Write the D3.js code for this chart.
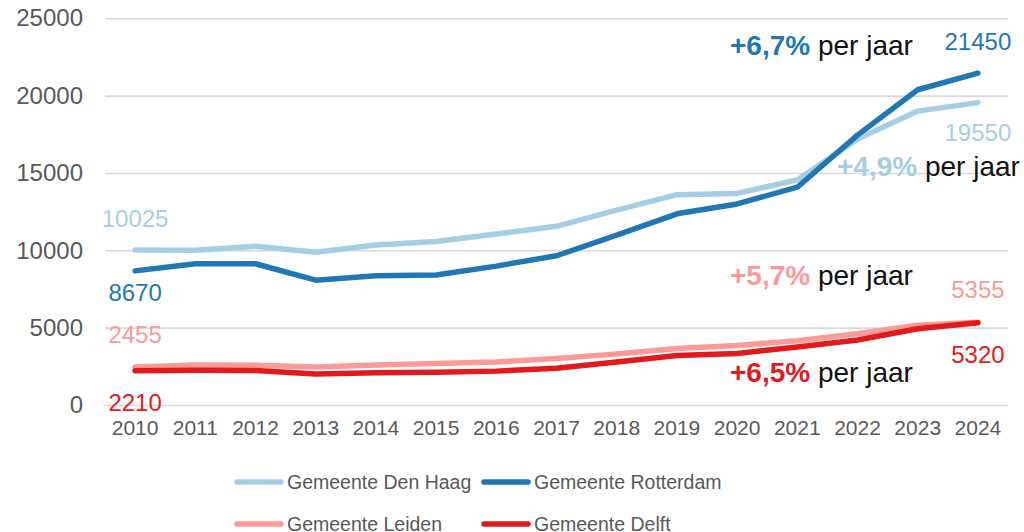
<!DOCTYPE html>
<html>
<head>
<meta charset="utf-8">
<script src="https://cdn.jsdelivr.net/npm/d3@7"></script>
<style>
	body { margin: 0; background: #fff; }
	svg { display: block; font-family: "Liberation Sans", Arial, sans-serif; }
</style>
</head>
<body>
<div id="container"></div>
<script>
// data
const years = [2010, 2011, 2012, 2013, 2014, 2015, 2016, 2017, 2018, 2019, 2020, 2021, 2022, 2023, 2024];
const denHaag   = [10025, 10010, 10260, 9880, 10350, 10570, 11050, 11550, 12600, 13600, 13680, 14550, 17200, 19000, 19550];
const rotterdam = [8670, 9130, 9130, 8070, 8350, 8400, 8980, 9650, 10980, 12360, 13000, 14080, 17450, 20380, 21450];
const leiden    = [2455, 2580, 2570, 2460, 2580, 2680, 2780, 3000, 3300, 3650, 3850, 4150, 4600, 5150, 5355];
const delft     = [2210, 2250, 2230, 2000, 2090, 2110, 2190, 2380, 2780, 3200, 3330, 3750, 4200, 4930, 5320];
const yTicks = [0, 5000, 10000, 15000, 20000, 25000];
const growth = ["+4,9%", "+6,7%", "+5,7%", "+6,5%"];

const series = [
	{name: "Gemeente Den Haag", values: denHaag, color: "#a6cee3"},
	{name: "Gemeente Rotterdam", values: rotterdam, color: "#1f78b4"},
	{name: "Gemeente Leiden", values: leiden, color: "#fb9a99"},
	{name: "Gemeente Delft", values: delft, color: "#e31a1c"}
];

// label placement (pixel offsets from the point, baseline)
const firstOffset = [-23, 30, -24, 40];
const lastOffset = [38, -23, -24, 40];
const annot = [
	{x: 837, y: 176},
	{x: 730, y: 55},
	{x: 730, y: 285},
	{x: 730, y: 382}
];

const width = 1024, height = 532;
const grey = "#595959";

let svg = d3.select("#container").append("svg")
	.attr("width", width)
	.attr("height", height);

let x = d3.scaleBand().domain(years).range([105, 1008]).padding(0);
let y = d3.scaleLinear().domain([0, 25000]).range([405, 18.3]);
const cx = d => x(d) + x.bandwidth() / 2;

// y axis with gridlines
let yAxis = svg.append("g")
	.attr("transform", "translate(105,0)")
	.call(d3.axisLeft(y).tickValues(yTicks).tickFormat(d3.format("d")).tickSize(-903).tickPadding(22));
yAxis.select(".domain").remove();
yAxis.selectAll(".tick line").attr("stroke", "#d9d9d9").attr("stroke-width", 1.6);
yAxis.selectAll(".tick text").attr("fill", grey).attr("font-size", 24).attr("font-family", null);

// x axis
let xAxis = svg.append("g")
	.attr("transform", "translate(0,405)")
	.call(d3.axisBottom(x).tickSize(0).tickPadding(15));
xAxis.select(".domain").remove();
xAxis.selectAll(".tick text").attr("fill", grey).attr("font-size", 21).attr("font-family", null);

// lines
let line = d3.line()
	.x((d, i) => cx(years[i]))
	.y(d => y(d));

svg.append("g").selectAll("path").data(series).join("path")
	.attr("d", d => line(d.values))
	.attr("fill", "none")
	.attr("stroke", d => d.color)
	.attr("stroke-width", 5.5)
	.attr("stroke-linejoin", "round")
	.attr("stroke-linecap", "round");

// first and last value labels
let labels = svg.append("g").attr("font-size", 24).attr("text-anchor", "middle");
series.forEach(function(s, i){
	let n = s.values.length - 1;
	labels.append("text")
		.attr("x", cx(years[0]))
		.attr("y", y(s.values[0]) + firstOffset[i])
		.attr("fill", s.color)
		.text(s.values[0]);
	labels.append("text")
		.attr("x", cx(years[n]))
		.attr("y", y(s.values[n]) + lastOffset[i])
		.attr("fill", s.color)
		.text(s.values[n]);
});

// growth annotations
series.forEach(function(s, i){
	let t = svg.append("text")
		.attr("x", annot[i].x)
		.attr("y", annot[i].y)
		.attr("font-size", 28);
	t.append("tspan").attr("fill", s.color).attr("font-weight", "bold").text(growth[i]);
	t.append("tspan").attr("fill", "#111").text(" per jaar");
});

// legend
let legend = svg.append("g").attr("font-size", 19.5);
const legX = [235, 482];
const legY = [482, 524];
series.forEach(function(s, i){
	let g = legend.append("g")
		.attr("transform", "translate(" + legX[i % 2] + "," + legY[Math.floor(i / 2)] + ")");
	g.append("line")
		.attr("x1", 2).attr("x2", 46)
		.attr("stroke", s.color)
		.attr("stroke-width", 5.5)
		.attr("stroke-linecap", "round");
	g.append("text")
		.attr("x", 52)
		.attr("dy", "0.35em")
		.attr("fill", grey)
		.text(s.name);
});
</script>
</body>
</html>
